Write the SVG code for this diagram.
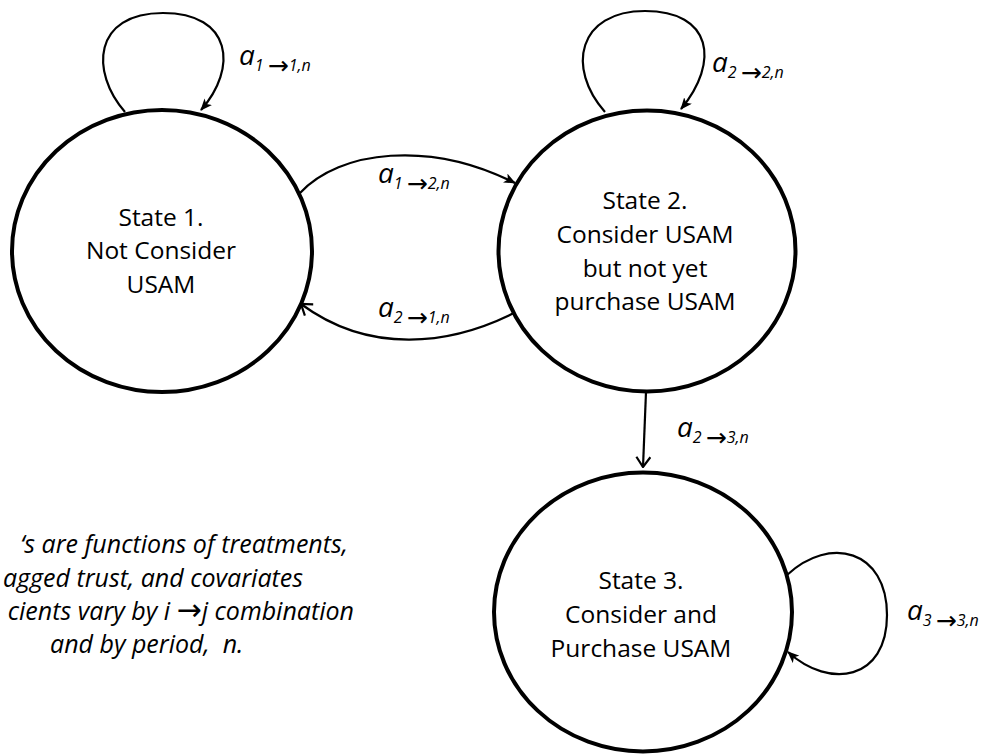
<svg xmlns="http://www.w3.org/2000/svg" width="985" height="755" viewBox="0 0 985 755">
<style>
.st{fill:#fff;stroke:#000;stroke-width:4}
.tx{font-family:"Open Sans","Liberation Sans",sans-serif;font-size:24.5px;fill:#000;text-anchor:middle}
.lbl{font-family:"Open Sans","Liberation Sans",sans-serif;font-style:italic;font-size:28px;fill:#000}
.sub{font-size:16px}
.ar{font-family:"DejaVu Sans",sans-serif;font-style:normal;font-size:25px}
.note{font-family:"Open Sans","Liberation Sans",sans-serif;font-style:italic;font-size:25px;fill:#000;white-space:pre}
.cn{fill:none;stroke:#000;stroke-width:2.2}
</style>
<defs>
<marker id="fa" viewBox="0 0 12 10" refX="11" refY="5" markerWidth="12" markerHeight="10" markerUnits="userSpaceOnUse" orient="auto"><path d="M0,0 L12,5 L0,10 L3,5 z" fill="#000"/></marker>
<marker id="oa" viewBox="0 0 12 16" refX="11" refY="8" markerWidth="12" markerHeight="16" markerUnits="userSpaceOnUse" orient="auto"><path d="M1,1 L11,8 L1,15" fill="none" stroke="#000" stroke-width="2.2"/></marker>
</defs>
<g id="connectors">
<path class="cn" d="M125,112 C90,72 93,13 163,13 C232,13 238,68 201,110" marker-end="url(#fa)"/>
<path class="cn" d="M605,112 C566,68 578,11 645,11 C712,11 720,62 681,109" marker-end="url(#fa)"/>
<path class="cn" d="M300,193 C340,150 430,140 515,183" marker-end="url(#fa)"/>
<path class="cn" d="M514,313 C450,345 370,355 301,304" marker-end="url(#oa)"/>
<path class="cn" d="M646,392 L643,467" marker-end="url(#oa)"/>
<path class="cn" d="M787,575 C830,535 887,550 887,615 C887,680 830,690 788,652" marker-end="url(#fa)"/>
</g>
<g id="state1">
<ellipse class="st" cx="162" cy="251" rx="150" ry="141"/>
<text class="tx" x="161" y="226">State 1.</text>
<text class="tx" x="161" y="259">Not Consider</text>
<text class="tx" x="161" y="293">USAM</text>
</g>
<g id="state2">
<ellipse class="st" cx="647" cy="251" rx="148.5" ry="140.5"/>
<text class="tx" x="645" y="209">State 2.</text>
<text class="tx" x="645" y="243">Consider USAM</text>
<text class="tx" x="645" y="277">but not yet</text>
<text class="tx" x="645" y="310">purchase USAM</text>
</g>
<g id="state3">
<ellipse class="st" cx="643" cy="612" rx="149" ry="139.5"/>
<text class="tx" x="641" y="589">State 3.</text>
<text class="tx" x="641" y="623">Consider and</text>
<text class="tx" x="641" y="657">Purchase USAM</text>
</g>
<g id="labels">
<text class="lbl" x="239" y="65">a<tspan class="sub" dy="6">1 <tspan class="ar" dy="3">→</tspan><tspan dy="-3">1,n</tspan></tspan></text>
<text class="lbl" x="712" y="72">a<tspan class="sub" dy="6">2 <tspan class="ar" dy="3">→</tspan><tspan dy="-3">2,n</tspan></tspan></text>
<text class="lbl" x="378" y="183">a<tspan class="sub" dy="6">1 <tspan class="ar" dy="3">→</tspan><tspan dy="-3">2,n</tspan></tspan></text>
<text class="lbl" x="378" y="317">a<tspan class="sub" dy="6">2 <tspan class="ar" dy="3">→</tspan><tspan dy="-3">1,n</tspan></tspan></text>
<text class="lbl" x="677" y="437">a<tspan class="sub" dy="6">2 <tspan class="ar" dy="3">→</tspan><tspan dy="-3">3,n</tspan></tspan></text>
<text class="lbl" x="907" y="620">a<tspan class="sub" dy="6">3 <tspan class="ar" dy="3">→</tspan><tspan dy="-3">3,n</tspan></tspan></text>
</g>
<g id="note">
<text class="note" x="348" y="553" text-anchor="end">‘s are functions of treatments,</text>
<text class="note" x="303" y="587" text-anchor="end">agged trust, and covariates</text>
<text class="note" x="354" y="620" text-anchor="end">cients vary by i <tspan class="ar" style="font-size:30px">→</tspan>j combination</text>
<text class="note" x="50" y="653">and by period,  n.</text>
</g>
</svg>
